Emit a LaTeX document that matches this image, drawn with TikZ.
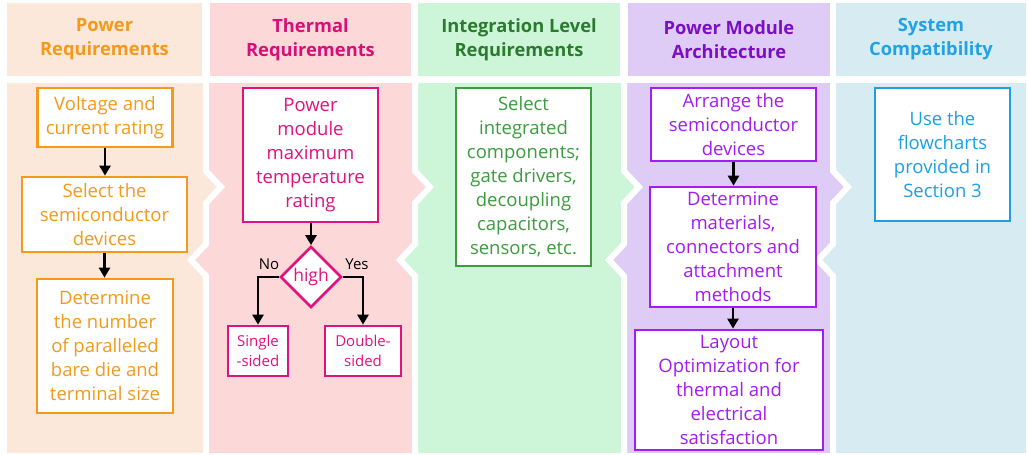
\documentclass[tikz,border=0pt]{standalone}
\usepackage{fontspec}
\setmainfont{Open Sans}
\usetikzlibrary{shapes.geometric,arrows.meta}
\definecolor{bgA}{HTML}{FBE8DA}
\definecolor{bgB}{HTML}{FDD8D8}
\definecolor{bgC}{HTML}{CDF6D9}
\definecolor{bgD}{HTML}{DFCCF6}
\definecolor{bgE}{HTML}{D7EBF3}
\definecolor{tA}{HTML}{F39A1C}
\definecolor{tB}{HTML}{D70F7A}
\definecolor{tC}{HTML}{2A7B2E}
\definecolor{tD}{HTML}{7A10C2}
\definecolor{tE}{HTML}{22A2E2}
\definecolor{kA}{HTML}{F39A1C}
\definecolor{kB}{HTML}{E0127E}
\definecolor{kC}{HTML}{3C9C3F}
\definecolor{kD}{HTML}{A31CF2}
\definecolor{kE}{HTML}{1E9FE4}
\tikzset{
  box/.style={draw, fill=white, line width=2.7pt, align=center, inner sep=0pt,
    font=\fontsize{18.5}{24}\selectfont},
  smallbox/.style={box, font=\fontsize{15}{20}\selectfont},
  hdr/.style={align=center, inner sep=0pt, font=\bfseries\fontsize{18.3}{24}\selectfont},
  arr/.style={-{Triangle[length=10pt,width=11pt]}, line width=2.4pt, black},
  lbl/.style={inner sep=0pt, font=\fontsize{15}{18}\selectfont, black},
  gap/.style={white, line width=6pt, line join=miter}
}
\begin{document}
\begin{tikzpicture}[x=1pt,y=-1pt]
\useasboundingbox (0,0) rectangle (1028,455);
\fill[white] (0,0) rectangle (1028,455);
% headers
\fill[bgA] (7,3) rectangle (202,76);
\fill[bgB] (210,3) rectangle (411,76);
\fill[bgC] (418,3) rectangle (620,76);
\fill[bgD] (628,3) rectangle (830,76);
\fill[bgE] (836,3) rectangle (1026,76);
% bodies
\fill[bgA] (7,83) rectangle (206,453);
\fill[bgB] (206,83) rectangle (415,453);
\fill[bgC] (415,83) rectangle (624,453);
\fill[bgD] (624,83) rectangle (833,453);
\fill[bgE] (833,83) rectangle (1026,453);
% chevron tips
\foreach \b/\l/\r in {206/bgA/bgB, 415/bgB/bgC, 624/bgC/bgD, 833/bgD/bgE}{
  \fill[\l] (\b,171) -- (\b+15,187) -- (\b,203) -- cycle;
  \fill[\r] (\b,244) -- (\b-15,260) -- (\b,276) -- cycle;
  \draw[gap] (\b,80) -- (\b,171) -- (\b+15,187) -- (\b,203) -- (\b,244) -- (\b-15,260) -- (\b,276) -- (\b,458);
}
% header titles
\node[hdr, text=tA] (hA) at (104.5,39.5) {Power\\Requirements};
\node[hdr, text=tB] (hB) at (310.5,39.5) {Thermal\\Requirements};
\node[hdr, text=tC] (hC) at (519,39.5) {Integration Level\\Requirements};
\node[hdr, text=tD] (hD) at (729,39.5) {Power Module\\Architecture};
\node[hdr, text=tE] (hE) at (931,39.5) {System\\Compatibility};
% column 1
\node[box, draw=kA, text=kA, minimum width=135pt, minimum height=59pt] (A1) at (105,117.5) {Voltage and\\current rating};
\node[box, draw=kA, text=kA, minimum width=165pt, minimum height=75pt] (A2) at (104.5,214.5) {Select the\\semiconductor\\devices};
\node[box, draw=kA, text=kA, minimum width=136pt, minimum height=134pt] (A3) at (105,346) {Determine\\the number\\of paralleled\\bare die and\\terminal size};
\draw[arr] (A1.south) -- (A1.south |- A2.north);
\draw[arr] (A2.south) -- (A2.south |- A3.north);
% column 2
\node[box, draw=kB, text=kB, minimum width=135pt, minimum height=134pt] (B1) at (310.5,155) {Power\\module\\maximum\\temperature\\rating};
\node[diamond, draw=kB, text=kB, fill=white, line width=2.7pt, minimum width=61pt, minimum height=61pt, inner sep=0pt, font=\fontsize{17.5}{20}\selectfont] (BD) at (311,277) {high};
\node[smallbox, draw=kB, text=kB, minimum width=60pt, minimum height=50pt] (BS) at (258,351) {Single\\-sided};
\node[smallbox, draw=kB, text=kB, minimum width=76pt, minimum height=50pt] (BT) at (363,351) {Double-\\sided};
\draw[arr] (B1.south -| BD.north) -- (BD.north);
\draw[arr] (BD.west) -| (BS.north);
\draw[arr] (BD.east) -| (BT.north);
\node[lbl] (lno) at (269,264) {No};
\node[lbl] (lyes) at (357,264) {Yes};
% column 3
\node[box, draw=kC, text=kC, minimum width=135pt, minimum height=178pt] (C1) at (523.5,177) {Select\\integrated\\components;\\gate drivers,\\decoupling\\capacitors,\\sensors, etc.};
% column 4
\node[box, draw=kD, text=kD, minimum width=165pt, minimum height=73pt] (D1) at (733.5,124.5) {Arrange the\\semiconductor\\devices};
\node[box, draw=kD, text=kD, minimum width=166pt, minimum height=120pt] (D2) at (733,247) {Determine\\materials,\\connectors and\\attachment\\methods};
\node[box, draw=kD, text=kD, minimum width=188pt, minimum height=120pt] (D3) at (729,390) {Layout\\Optimization for\\thermal and\\electrical\\satisfaction};
\draw[arr] (D1.south) -- (D1.south |- D2.north);
\draw[arr] (D2.south) -- (D2.south |- D3.north);
% column 5
\node[box, draw=kE, text=kE, minimum width=135pt, minimum height=133pt] (E1) at (942.5,154.5) {Use the\\flowcharts\\provided in\\Section 3};
\end{tikzpicture}
\end{document}
